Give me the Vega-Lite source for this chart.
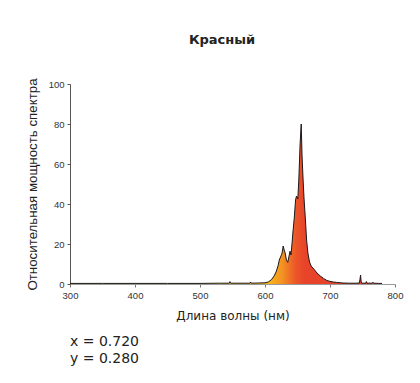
{
  "$schema": "https://vega.github.io/schema/vega-lite/v6.json",
  "padding": {"left": 25, "top": 33, "right": 5, "bottom": 5},
  "title": {"text": "Красный", "font": "DejaVu Sans", "fontSize": 13, "fontWeight": "bold", "color": "#222", "anchor": "middle", "offset": 31, "dx": 8},
  "datasets": {
    "spectrum": [
      {"wl": 300, "p": 0.3}, {"wl": 350, "p": 0.3}, {"wl": 400, "p": 0.3}, {"wl": 450, "p": 0.3},
      {"wl": 500, "p": 0.3}, {"wl": 530, "p": 0.4}, {"wl": 545, "p": 0.4}, {"wl": 546, "p": 1.2},
      {"wl": 547, "p": 0.4}, {"wl": 560, "p": 0.4}, {"wl": 577, "p": 0.4}, {"wl": 578, "p": 1.0},
      {"wl": 579, "p": 0.4}, {"wl": 590, "p": 0.5}, {"wl": 600, "p": 0.6}, {"wl": 605, "p": 1.0},
      {"wl": 610, "p": 2.2}, {"wl": 614, "p": 4}, {"wl": 617, "p": 6}, {"wl": 620, "p": 9},
      {"wl": 622, "p": 12}, {"wl": 624.5, "p": 14}, {"wl": 626, "p": 15}, {"wl": 628, "p": 19},
      {"wl": 629.5, "p": 17}, {"wl": 631, "p": 15.5}, {"wl": 633, "p": 12}, {"wl": 635, "p": 10.8},
      {"wl": 637, "p": 14}, {"wl": 638.5, "p": 16.4}, {"wl": 640, "p": 14.5}, {"wl": 641.5, "p": 20},
      {"wl": 643, "p": 26}, {"wl": 645, "p": 33}, {"wl": 647, "p": 42}, {"wl": 648.5, "p": 44},
      {"wl": 650.5, "p": 42.5}, {"wl": 652, "p": 52}, {"wl": 654, "p": 70}, {"wl": 655.7, "p": 80},
      {"wl": 657, "p": 64}, {"wl": 658.5, "p": 53}, {"wl": 660, "p": 43}, {"wl": 662, "p": 33},
      {"wl": 664, "p": 22}, {"wl": 666, "p": 15.5}, {"wl": 668.5, "p": 11}, {"wl": 671, "p": 9},
      {"wl": 675, "p": 7.5}, {"wl": 680, "p": 5.5}, {"wl": 685, "p": 4}, {"wl": 690, "p": 2.8},
      {"wl": 695, "p": 1.8}, {"wl": 700, "p": 1.3}, {"wl": 705, "p": 1.0}, {"wl": 710, "p": 0.8},
      {"wl": 720, "p": 0.5}, {"wl": 730, "p": 0.4}, {"wl": 740, "p": 0.4}, {"wl": 745, "p": 0.5},
      {"wl": 746, "p": 2}, {"wl": 747, "p": 4.5}, {"wl": 748, "p": 1}, {"wl": 749, "p": 0.4},
      {"wl": 755, "p": 0.4}, {"wl": 756, "p": 1.2}, {"wl": 757, "p": 0.4}, {"wl": 765, "p": 0.4},
      {"wl": 766, "p": 0.9}, {"wl": 767, "p": 0.4}, {"wl": 775, "p": 0.3}, {"wl": 780, "p": 0.3}
    ],
    "coords": [
      {"order": 1, "label": "x = 0.720"},
      {"order": 2, "label": "y = 0.280"}
    ]
  },
  "vconcat": [
    {
      "width": 325,
      "height": 200,
      "data": {"name": "spectrum"},
      "encoding": {
        "x": {"field": "wl", "type": "quantitative", "scale": {"domain": [300, 800], "nice": false},
              "axis": {"title": "Длина волны (нм)", "values": [300, 400, 500, 600, 700, 800], "grid": false, "labelFlush": false,
                       "domainColor": "#999", "tickColor": "#777", "tickSize": 3,
                       "labelFont": "Liberation Sans", "labelFontSize": 9.5, "labelColor": "#333", "labelPadding": 3,
                       "titleFont": "DejaVu Sans", "titleFontSize": 12, "titleFontWeight": "normal", "titleColor": "#222", "titlePadding": 11}},
        "y": {"field": "p", "type": "quantitative", "scale": {"domain": [0, 100], "nice": false},
              "axis": {"title": "Относительная мощность спектра", "values": [0, 20, 40, 60, 80, 100], "grid": false,
                       "domainColor": "#555", "tickColor": "#555", "tickSize": 3,
                       "labelFont": "Liberation Sans", "labelFontSize": 9.5, "labelColor": "#333", "labelPadding": 3,
                       "titleFont": "Liberation Sans", "titleFontSize": 13.3, "titleFontWeight": "normal", "titleColor": "#222", "titlePadding": 9}}
      },
      "layer": [
        {"mark": {"type": "area", "interpolate": "linear",
                  "color": {"gradient": "linear", "x1": 0, "y1": 0, "x2": 1, "y2": 0,
                            "stops": [
                              {"offset": 0, "color": "#F9C21A"},
                              {"offset": 0.635, "color": "#F9B81B"},
                              {"offset": 0.68, "color": "#F39222"},
                              {"offset": 0.72, "color": "#EC5A28"},
                              {"offset": 0.75, "color": "#E8442A"},
                              {"offset": 1, "color": "#E23D28"}]}}},
        {"mark": {"type": "line", "color": "#1a1a1a", "strokeWidth": 1}}
      ]
    },
    {
      "width": 325,
      "height": 34,
      "data": {"name": "coords"},
      "mark": {"type": "text", "align": "left", "baseline": "middle", "font": "DejaVu Sans", "fontSize": 14, "color": "#222"},
      "encoding": {
        "x": {"datum": 0, "type": "quantitative", "scale": {"domain": [0, 1]}, "axis": null},
        "y": {"field": "order", "type": "ordinal", "axis": null},
        "text": {"field": "label", "type": "nominal"}
      }
    }
  ],
  "spacing": 11,
  "config": {"view": {"stroke": null}}
}
